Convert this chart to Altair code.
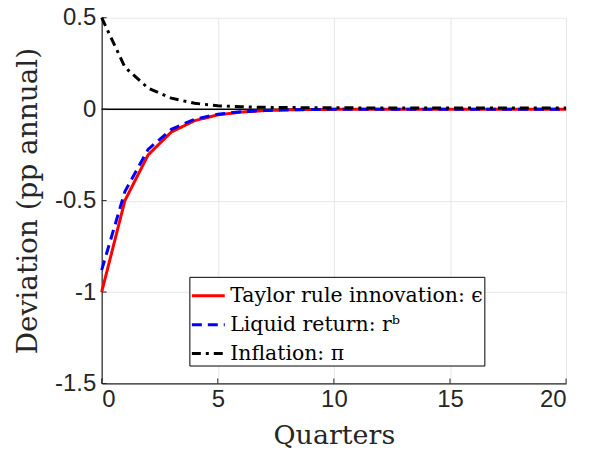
import altair as alt
import pandas as pd

quarters = list(range(21))
taylor = [-1.0, -0.5, -0.25, -0.125, -0.063, -0.031, -0.016, -0.008, -0.004, -0.002, -0.001,
          0.0, 0.0, 0.0, 0.0, 0.0, 0.0, 0.0, 0.0, 0.0, 0.0]
liquid = [-0.88, -0.45, -0.22, -0.11, -0.055, -0.028, -0.014, -0.007, -0.0035, -0.0018, -0.0009,
          0.0, 0.0, 0.0, 0.0, 0.0, 0.0, 0.0, 0.0, 0.0, 0.0]
inflation = [0.5, 0.23, 0.115, 0.06, 0.032, 0.019, 0.013, 0.01, 0.009, 0.008, 0.008,
             0.007, 0.007, 0.007, 0.006, 0.006, 0.006, 0.006, 0.006, 0.006, 0.006]
names = ["Taylor rule innovation: ϵ", "Liquid return: rᵇ", "Inflation: π"]
colors = ["#ff0000", "#0000ff", "#000000"]
dashes = [[1, 0], [10, 6], [9, 5, 3, 5]]
x_ticks = [0, 5, 10, 15, 20]
y_ticks = [-1.5, -1.0, -0.5, 0.0, 0.5]

rows = []
for name, vals in zip(names, [taylor, liquid, inflation]):
    for q, v in zip(quarters, vals):
        rows.append({"q": q, "v": v, "series": name})
df = pd.DataFrame(rows)

W, H = 466, 367
xscale = alt.Scale(domain=[0, 20], nice=False)
yscale = alt.Scale(domain=[-1.5, 0.5], nice=False)

base_axis = dict(grid=True, gridColor="#e6e6e6", gridWidth=1, domainColor="#262626",
                 domainWidth=1.2, tickSize=0, labelColor="#262626", labelFontSize=24,
                 labelFont="Liberation Sans", titleFont="DejaVu Serif",
                 titleFontWeight="normal", titleColor="#262626",
                 labelExpr="replace(datum.label, '−', '-')")

lines = alt.Chart(df).mark_line(strokeWidth=3).encode(
    x=alt.X("q:Q", scale=xscale, title="Quarters",
            axis=alt.Axis(values=x_ticks, labelPadding=4, titlePadding=11, titleFontSize=27,
                          **base_axis)),
    y=alt.Y("v:Q", scale=yscale, title="Deviation (pp annual)",
            axis=alt.Axis(values=y_ticks, format="~g", labelPadding=6, titlePadding=12,
                          titleFontSize=28, **base_axis)),
    color=alt.Color("series:N", scale=alt.Scale(domain=names, range=colors), title=None,
                    sort=names),
    strokeDash=alt.StrokeDash("series:N", scale=alt.Scale(domain=names, range=dashes),
                              title=None, sort=names),
    order=alt.Order("q:Q"),
)

zero = alt.Chart(pd.DataFrame({"y": [0.0]})).mark_rule(color="black", strokeWidth=1.5).encode(
    y=alt.Y("y:Q", scale=yscale))

xt = alt.Chart(pd.DataFrame({"x": x_ticks})).mark_rule(color="#262626", strokeWidth=1).encode(
    x=alt.X("x:Q", scale=xscale), y=alt.value(H), y2=alt.value(H - 5))
yt = alt.Chart(pd.DataFrame({"y": y_ticks})).mark_rule(color="#262626", strokeWidth=1).encode(
    y=alt.Y("y:Q", scale=yscale), x=alt.value(0), x2=alt.value(5))

chart = alt.layer(zero, xt, yt, lines).properties(
    width=W, height=H,
    autosize=alt.AutoSizeParams(type="none"),
    padding={"left": 94, "top": 9, "right": 23, "bottom": 67},
).configure_view(stroke=None).configure_legend(
    orient="none", legendX=88, legendY=260,
    strokeColor="black", fillColor="white", padding=1,
    labelFont="DejaVu Serif", labelFontSize=20.5, labelColor="black", labelOffset=4,
    symbolType="stroke", symbolStrokeWidth=3, symbolSize=1089, rowPadding=-3,
    labelLimit=400, cornerRadius=0,
)

chart.save("out.html", embed_options={"renderer": "svg", "actions": False})
